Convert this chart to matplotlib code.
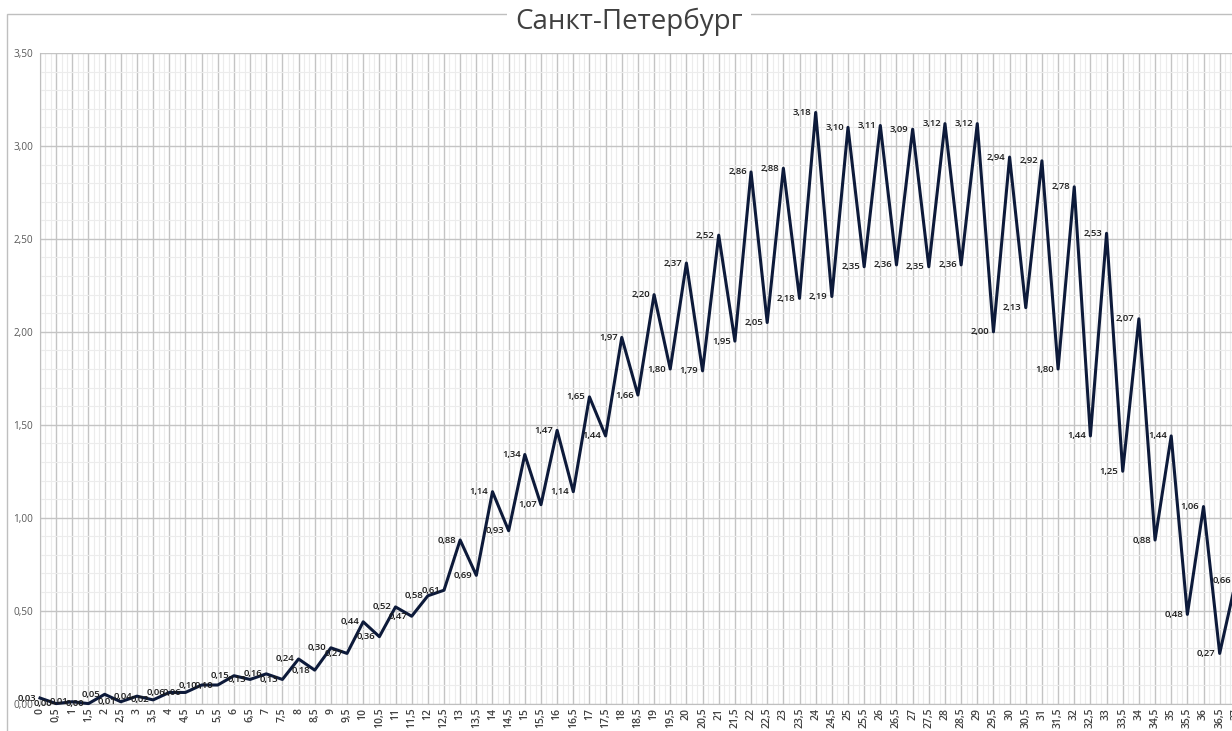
import numpy as np
import matplotlib
matplotlib.use("Agg")
import matplotlib.pyplot as plt
from matplotlib.patches import Rectangle
from matplotlib.ticker import MultipleLocator, FuncFormatter

plt.rcParams['font.family'] = ['Open Sans', 'DejaVu Sans']

title = 'Санкт-Петербург'

# categories on the x axis
x = np.arange(0, 37.5, 0.5)

values = [0.03, 0.00, 0.01, 0.00, 0.05, 0.01, 0.04, 0.02, 0.06, 0.06,
          0.10, 0.10, 0.15, 0.13, 0.16, 0.13, 0.24, 0.18, 0.30, 0.27,
          0.44, 0.36, 0.52, 0.47, 0.58, 0.61, 0.88, 0.69, 1.14, 0.93,
          1.34, 1.07, 1.47, 1.14, 1.65, 1.44, 1.97, 1.66, 2.20, 1.80,
          2.37, 1.79, 2.52, 1.95, 2.86, 2.05, 2.88, 2.18, 3.18, 2.19,
          3.10, 2.35, 3.11, 2.36, 3.09, 2.35, 3.12, 2.36, 3.12, 2.00,
          2.94, 2.13, 2.92, 1.80, 2.78, 1.44, 2.53, 1.25, 2.07, 0.88,
          1.44, 0.48, 1.06, 0.27, 0.66]


def comma(v, nd=2):
    return f'{v:.{nd}f}'.replace('.', ',')


def cat_label(v):
    return f'{v:g}'.replace('.', ',')


W, H = 1232, 731
fig = plt.figure(figsize=(W / 100, H / 100), dpi=100)

# chart frame
fig.patches.append(Rectangle((7 / W, -0.1), 1.2, 1 - 14 / H + 0.1,
                             transform=fig.transFigure, fill=False,
                             edgecolor='#bfbfbf', lw=1.0, zorder=0))

left, right = 40 / W, 1252 / W
bottom, top = (H - 703.6) / H, (H - 53) / H
ax = fig.add_axes([left, bottom, right - left, top - bottom])

ax.plot(x, values, color='#0d1a3a', lw=2.2, zorder=3, clip_on=False)

for xi, v in zip(x, values):
    ax.annotate(comma(v), (xi, v), xytext=(-3, 0), textcoords='offset points',
                ha='right', va='center', fontsize=6.8, color='#1a1a1a',
                fontweight='semibold', zorder=4)

ax.set_xlim(0, 37.5)
ax.set_ylim(0, 3.5)

ax.yaxis.set_major_locator(MultipleLocator(0.5))
ax.yaxis.set_minor_locator(MultipleLocator(0.1))
ax.yaxis.set_major_formatter(FuncFormatter(lambda v, p: comma(v)))
ax.set_xticks(x)
ax.set_xticks(np.arange(0, 37.5, 0.5 / 3), minor=True)
ax.set_xticklabels([cat_label(v) for v in x], rotation=90,
                   fontsize=7.5, fontweight='semibold', color='#404040')

ax.tick_params(axis='both', which='both', length=0)
ax.tick_params(axis='y', labelsize=7.2, labelcolor='#595959', pad=5)
ax.tick_params(axis='x', pad=3)

ax.grid(which='major', color='#c4c4c4', lw=1.0, zorder=1)
ax.grid(which='minor', color='#ececec', lw=0.8, zorder=0)
ax.set_axisbelow(True)

for s in ['top', 'right']:
    ax.spines[s].set_visible(False)
ax.spines['left'].set_color('#bfbfbf')
ax.spines['bottom'].set_color('#bfbfbf')

fig.text(629 / W, 1 - 22 / H, title, ha='center', va='center', fontsize=20,
         color='#404040',
         bbox=dict(facecolor='white', edgecolor='none', pad=6))

fig.savefig('out.png', dpi=100)
